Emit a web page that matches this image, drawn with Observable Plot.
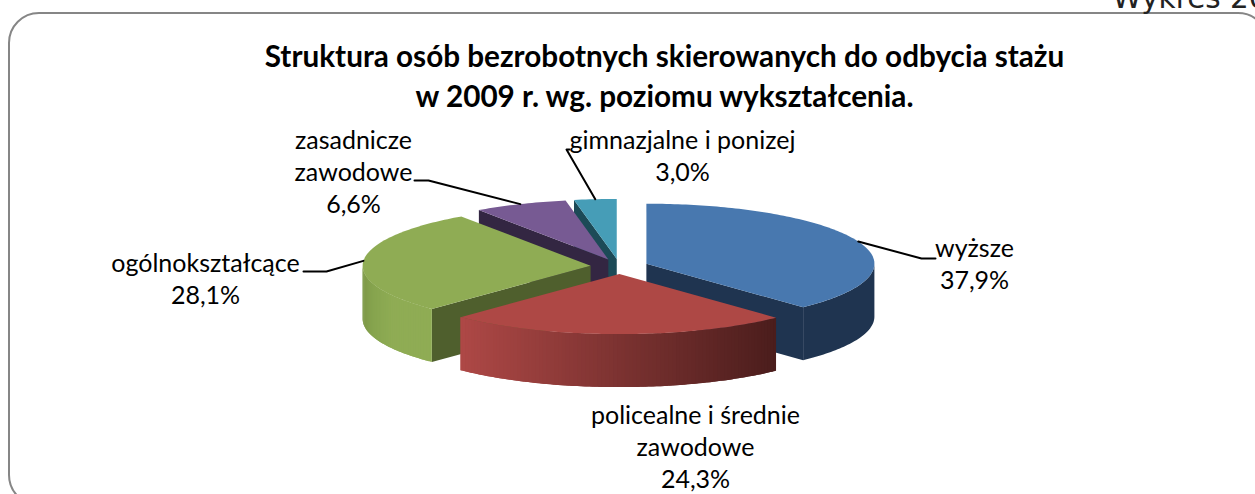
<!DOCTYPE html>
<html>
<head>
<meta charset="utf-8">
<script src="https://cdn.jsdelivr.net/npm/d3@7"></script>
<script src="https://cdn.jsdelivr.net/npm/@observablehq/plot@0.6"></script>
<style>html,body{margin:0;padding:0;background:#fff;overflow:hidden}svg{display:block}</style>
</head>
<body>
<div id="chart"></div>
<script>
// Data
const categories = ["wyższe", "policealne i średnie\nzawodowe", "ogólnokształcące", "zasadnicze\nzawodowe", "gimnazjalne i ponizej"];
const shares = [37.9, 24.3, 28.1, 6.6, 3.0];
const titleLines = ["Struktura osób bezrobotnych skierowanych do odbycia stażu", "w 2009 r. wg. poziomu wykształcenia."];
const pageLabel = ["Wykres 20"];

// Styles and layout (page units)
const topColors = ["#4878AF", "#AE4845", "#8FAC54", "#775A93", "#469DB7"];
const faceColors = ["#1F3450", "#4A1D1C", "#4F5F2D", "#332642", "#1C4A57"];
const drawOrder = [4, 3, 0, 2, 1];
const W = 1255, H = 494;
const cx = 619, cy = 266, rx = 228, ry = 60, depth = 53, explode = 0.127;
const labelAnchors = [[974, 262], [695, 445], [205, 277], [353, 170], [682, 154]];
const leaderElbows = [[[921, 258], [935, 258]], null, [[326, 271], [303, 271]], [[428, 180], [414, 180]], [[566, 149], [569, 149]]];

// Derived geometry
const total = d3.sum(shares);
const rad = d => d * Math.PI / 180;
let running = 0;
const slices = shares.map((s, i) => {
  const a0 = running / total * 360; running += s;
  const a1 = running / total * 360;
  const mid = (a0 + a1) / 2;
  const ax = cx + explode * rx * Math.sin(rad(mid));
  const ay = cy - explode * ry * Math.cos(rad(mid));
  const at = a => [ax + rx * Math.sin(rad(a)), ay - ry * Math.cos(rad(a))];
  return {i, a0, a1, mid, ax, ay, at};
});

const arcAngles = (a, b) => { const o = []; for (let t = a; t < b; t += 1) o.push(t); o.push(b); return o; };
const polys = [];
let pid = 0;
const addPoly = (pts, c) => { const id = pid++; pts.forEach(([x, y]) => polys.push({id, x, y, c})); };

const redRamp = d3.scaleLinear().domain([460, 777]).range(["#AE4846", "#4A1D1C"]).interpolate(d3.interpolateRgb);
const greenRamp = d3.scaleLinear().domain([364, 372, 392]).range(["#7F9B49", "#86A44E", "#8FAC54"]).clamp(true);
const wallColor = (i, x) => i === 1 ? redRamp(x) : greenRamp(x);

for (const k of drawOrder) {
  const s = slices[k];
  // the cut face that looks toward the viewer
  const faceAngle = k === 0 ? s.a1 : k === 1 ? null : s.a0;
  if (faceAngle !== null) {
    const [ex, ey] = s.at(faceAngle);
    addPoly([[s.ax, s.ay], [ex, ey], [ex, ey + depth], [s.ax, s.ay + depth]], faceColors[k]);
  }
  // outer wall, front half only
  const w0 = Math.max(s.a0, 90), w1 = Math.min(s.a1, 270);
  if (w1 > w0) {
    const as = arcAngles(w0, w1);
    if (k === 0) {
      const tops = as.map(s.at);
      addPoly([...tops, ...tops.slice().reverse().map(([x, y]) => [x, y + depth])], faceColors[k]);
    } else {
      // strips overlap the next one, so that no seam shows between them
      for (let j = 0; j < as.length - 1; j++) {
        const run = as.slice(j, j + 3).map(s.at);
        const mx = (run[0][0] + run[1][0]) / 2;
        addPoly([...run, ...run.slice().reverse().map(([x, y]) => [x, y + depth])], wallColor(k, mx));
      }
    }
  }
  // top
  addPoly([[s.ax, s.ay], ...arcAngles(s.a0, s.a1).map(s.at)], topColors[k]);
}

const leaders = [];
slices.forEach((s, i) => {
  if (!leaderElbows[i]) return;
  [s.at(s.mid), ...leaderElbows[i]].forEach(([x, y]) => leaders.push({i, x, y}));
});

const labels = categories.map((c, i) => ({
  x: labelAnchors[i][0], y: labelAnchors[i][1],
  text: c + "\n" + shares[i].toFixed(1).replace(".", ",") + "%"
}));
const titles = titleLines.map((t, i) => ({t, x: 664, y: 57 + i * 40}));

const chart = Plot.plot({
  width: W, height: H, margin: 0,
  x: {domain: [0, W], range: [0, W], axis: null},
  y: {domain: [0, H], range: [0, H], axis: null},
  color: {type: "identity"},
  style: {background: "#fff", overflow: "hidden"},
  marks: [
    Plot.rect([{}], {x1: () => 9, x2: () => 1268, y1: () => 13, y2: () => 505, rx: 30, fill: "none", stroke: "#868686", strokeWidth: 2}),
    Plot.text(pageLabel, {x: () => 1112, y: () => 7, text: d => d, textAnchor: "start", lineAnchor: "bottom", fontFamily: "DejaVu Sans", fontSize: 29.5, fill: "#222"}),
    Plot.line(polys, {x: "x", y: "y", z: "id", fill: "c", stroke: "none", curve: "linear-closed"}),
    Plot.line(leaders, {x: "x", y: "y", z: "i", stroke: "#000", strokeWidth: 2, curve: "linear"}),
    Plot.text(titles, {x: "x", y: "y", text: "t", fontFamily: "Lato", fontWeight: "bold", fontSize: 29.7, fill: "#000"}),
    Plot.text(labels, {x: "x", y: "y", text: "text", fontFamily: "Lato", fontSize: 25, lineHeight: 1.28, fill: "#000"})
  ]
});
document.getElementById("chart").append(chart);
</script>
</body>
</html>
